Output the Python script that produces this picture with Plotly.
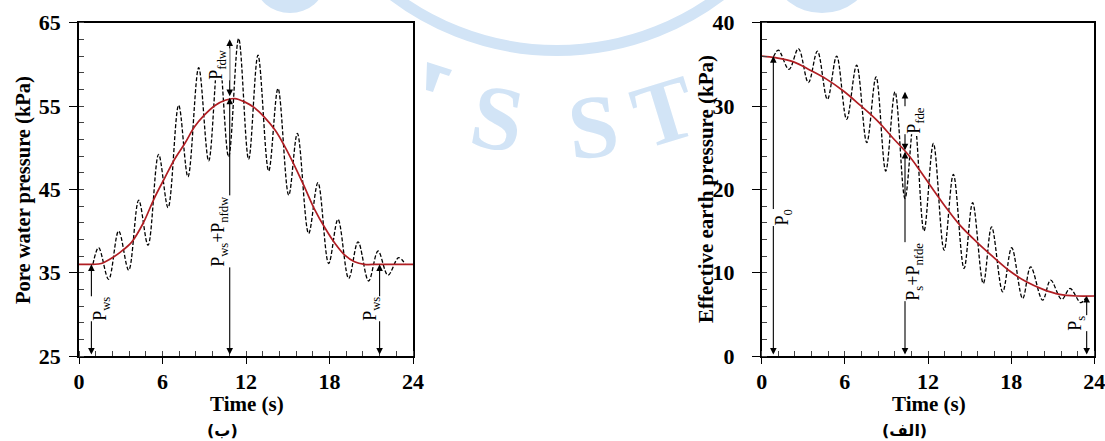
import plotly.graph_objects as go

# ---------------- data ----------------
# Left panel (ب): pore water pressure
t_pw_dyn = [1.0, 1.41, 2.13, 2.85, 3.57, 4.29, 4.96, 5.72, 6.40, 7.16, 7.83, 8.60, 9.32, 10.04,
            10.75, 11.47, 12.19, 12.86, 13.63, 14.30, 15.07, 15.69, 16.50, 17.17, 17.94, 18.61,
            19.38, 20.05, 20.81, 21.49, 22.20, 22.97, 23.45]
pw_dyn = [36.0, 38.0, 34.2, 40.0, 35.3, 43.7, 38.3, 49.2, 42.8, 55.1, 46.5, 59.6, 48.4, 61.5,
          48.9, 63.1, 48.6, 61.1, 47.2, 57.1, 44.3, 51.7, 39.7, 45.8, 36.1, 41.4,
          34.3, 38.7, 34.0, 37.6, 34.7, 36.8, 36.0]
t_pw_mean = [0, 1.0, 1.6, 2.3, 3.0, 3.8, 4.6, 5.4, 6.2, 6.9, 7.6, 8.3, 9.0, 9.8, 10.5, 11.2,
             11.9, 12.6, 13.3, 14.1, 14.8, 15.5, 16.2, 16.9, 17.7, 18.4, 19.1, 19.8, 20.5, 21.5, 24.0]
pw_mean = [36.0, 36.0, 36.1, 36.7, 37.5, 38.7, 40.9, 43.9, 46.5, 48.7, 50.5, 52.5, 53.9, 55.1,
           55.7, 55.9, 55.5, 54.8, 53.7, 52.1, 50.1, 47.8, 45.3, 42.7, 40.3, 38.5, 37.1, 36.3,
           36.0, 36.0, 36.0]

# Right panel (الف): effective earth pressure
t_ep_dyn = [0.85, 1.2, 1.97, 2.65, 3.37, 4.02, 4.74, 5.41, 6.13, 6.85, 7.58, 8.25, 8.95, 9.62,
            10.34, 11.0, 11.71, 12.39, 13.16, 13.83, 14.6, 15.22, 15.99, 16.59, 17.39, 18.04,
            18.83, 19.41, 20.27, 20.85, 21.65, 22.25, 23.02, 23.4]
ep_dyn = [35.9, 36.7, 34.4, 36.9, 32.8, 36.6, 30.8, 36.0, 28.4, 34.9, 25.6, 33.5, 22.2, 31.7,
          18.9, 28.5, 15.0, 25.5, 12.7, 21.8, 10.5, 18.4, 8.7, 15.5, 7.7, 13.0,
          6.9, 10.7, 6.7, 9.1, 6.8, 8.1, 6.4, 7.0]
t_ep_mean = [0, 1.0, 2.3, 3.5, 4.7, 5.9, 7.1, 8.3, 9.5, 10.5, 11.4, 12.4, 13.35, 14.3, 15.5,
             16.7, 17.9, 19.1, 20.3, 21.5, 22.7, 24.0]
ep_mean = [36.0, 35.8, 35.3, 34.3, 33.2, 31.8, 30.1, 28.3, 26.1, 24.3, 22.3, 19.9, 17.7, 15.7,
           13.7, 11.9, 10.2, 8.9, 8.0, 7.4, 7.2, 7.2]

x_ticks = [0, 6, 12, 18, 24]
pw_ticks = [25, 35, 45, 55, 65]
ep_ticks = [0, 10, 20, 30, 40]

# arrows: (x, y_from, y_to)
pw_arrows = [(0.89, 25, 36), (21.6, 25, 36), (10.83, 25, 56), (10.83, 56, 63)]
ep_arrows = [(0.84, 0, 36), (10.34, 0, 24.5), (10.34, 24.5, 31.7), (23.45, 0, 7.2)]
# labels: (text, x, y)
pw_labels = [("P<sub>ws</sub>", 1.6, 30.7), ("P<sub>ws</sub>", 21.0, 30.7),
             ("P<sub>fdw</sub>", 9.95, 60.0), ("P<sub>ws</sub>+P<sub>nfdw</sub>", 10.05, 40.0)]
ep_labels = [("P<sub>0</sub>", 1.6, 16.6), ("P<sub>fde</sub>", 11.1, 28.3),
             ("P<sub>s</sub>+P<sub>nfde</sub>", 11.05, 10.1), ("P<sub>s</sub>", 22.75, 4.0)]

# ---------------- figure ----------------
W, H = 1105, 441
def px(x):
    return x / W
def py(y):
    return 1 - y / H

RED = "#B01E23"
SERIF = "Liberation Serif"
WM = "#d2e4f6"

fig = go.Figure()
dash = "4px,2px"
fig.add_trace(go.Scatter(x=t_pw_dyn, y=pw_dyn, mode="lines", xaxis="x", yaxis="y",
                         line=dict(color="black", width=1.3, dash=dash, shape="spline", smoothing=1.0)))
fig.add_trace(go.Scatter(x=t_pw_mean, y=pw_mean, mode="lines", xaxis="x", yaxis="y",
                         line=dict(color=RED, width=1.7, shape="spline", smoothing=1.0)))
fig.add_trace(go.Scatter(x=t_ep_dyn, y=ep_dyn, mode="lines", xaxis="x2", yaxis="y2",
                         line=dict(color="black", width=1.3, dash=dash, shape="spline", smoothing=1.0)))
fig.add_trace(go.Scatter(x=t_ep_mean, y=ep_mean, mode="lines", xaxis="x2", yaxis="y2",
                         line=dict(color=RED, width=1.7, shape="spline", smoothing=1.0)))

tickfont = dict(family=SERIF, size=22, color="black", weight="bold")

def xaxis(domain, anchor):
    return dict(domain=domain, anchor=anchor, range=[0, 24], tickvals=x_ticks,
                ticks="outside", ticklen=6, tickwidth=1.2, tickcolor="black",
                showline=True, linecolor="black", linewidth=1.6, mirror=True,
                showgrid=False, zeroline=False, tickfont=tickfont, ticklabelstandoff=-1,
                ticklabeloverflow="allow",
                minor=dict(dtick=1.2, tick0=0, ticks="inside", ticklen=5, tickcolor="#444", tickwidth=1),
                fixedrange=True, automargin=False)

def yaxis(domain, anchor, rng, vals, dt, standoff):
    return dict(domain=domain, anchor=anchor, range=rng, tickvals=vals,
                ticks="outside", ticklen=8, tickwidth=1.2, tickcolor="black",
                showline=True, linecolor="black", linewidth=1.6, mirror=True,
                showgrid=False, zeroline=False, tickfont=tickfont, ticklabelstandoff=standoff,
                ticklabeloverflow="allow",
                minor=dict(dtick=dt, tick0=rng[0], ticks="inside", ticklen=5, tickcolor="#444", tickwidth=1),
                fixedrange=True, automargin=False)

ydom = [py(356), py(22.7)]
fig.update_layout(
    width=W, height=H, margin=dict(l=0, r=0, t=0, b=0, pad=0, autoexpand=False),
    paper_bgcolor="white", plot_bgcolor="rgba(0,0,0,0)", showlegend=False,
    xaxis=xaxis([px(79), px(413)], "y"),
    yaxis=yaxis(ydom, "x", [25, 65], pw_ticks, 2, 4),
    xaxis2=xaxis([px(761.7), px(1094.3)], "y2"),
    yaxis2=yaxis(ydom, "x2", [0, 40], ep_ticks, 2, 13),
)

ann = []
# arrows
for axn, arrows in (("", pw_arrows), ("2", ep_arrows)):
    for (xa, y0, y1) in arrows:
        ann.append(dict(x=xa, y=y1, ax=xa, ay=y0, xref="x" + axn, yref="y" + axn,
                        axref="x" + axn, ayref="y" + axn, text="", showarrow=True,
                        arrowhead=2, startarrowhead=2, arrowside="end+start",
                        arrowsize=1.2, startarrowsize=1.2, arrowwidth=1.1, arrowcolor="black"))
# labels
for axn, labels in (("", pw_labels), ("2", ep_labels)):
    for (txt, xl, yl) in labels:
        ann.append(dict(x=xl, y=yl, xref="x" + axn, yref="y" + axn, text=txt, showarrow=False,
                        textangle=-90, font=dict(family=SERIF, size=18, color="black"),
                        bgcolor="white", borderpad=0, xanchor="center", yanchor="middle"))
# axis titles and panel captions
def pann(text, x, y, size=20, angle=0, family=SERIF, color="black"):
    ann.append(dict(x=px(x), y=py(y), xref="paper", yref="paper", text=text, showarrow=False,
                    textangle=angle, font=dict(family=family, size=size, color=color),
                    xanchor="center", yanchor="middle"))

# watermark letters (drawn first so the titles sit on top)
pann("<b>S</b>", 497, 118, size=92, angle=10, color=WM)
pann("<b>S</b>", 593, 126, size=90, angle=-6, color=WM)
pann("<b>T</b>", 664, 111, size=90, angle=-17, color=WM)

pann("<b>Pore water pressure (kPa)</b>", 24, 190, size=20.5, angle=-90)
pann("<b>Effective earth pressure (kPa)</b>", 706, 189, size=21, angle=-90)
pann("<b>Time (s)</b>", 247, 404, size=21)
pann("<b>Time (s)</b>", 929, 404, size=21)
pann("<b>(ب)</b>", 222, 430, size=16, family="DejaVu Sans")
pann("<b>(الف)</b>", 904, 430, size=16, family="DejaVu Sans")
fig.update_layout(annotations=ann)

# watermark shapes
shapes = [
    dict(type="circle", xref="paper", yref="paper", x0=px(285.5), x1=px(828.5),
         y0=py(50.5), y1=py(-492.5), line=dict(color=WM, width=11), layer="below"),
    dict(type="circle", xref="paper", yref="paper", x0=px(256), x1=px(324),
         y0=py(13), y1=py(-45), line=dict(width=0), fillcolor=WM, layer="below"),
    dict(type="circle", xref="paper", yref="paper", x0=px(776), x1=px(868),
         y0=py(13), y1=py(-60), line=dict(width=0), fillcolor=WM, layer="below"),
    dict(type="path", xref="paper", yref="paper",
         path=f"M {px(427)} {py(62)} L {px(452)} {py(70)} L {px(449)} {py(76)} L {px(440)} {py(73)} "
              f"L {px(433)} {py(92)} L {px(426)} {py(90)} Z",
         line=dict(width=0), fillcolor=WM, layer="below"),
]
fig.update_layout(shapes=shapes)

fig.write_html("out.html")
